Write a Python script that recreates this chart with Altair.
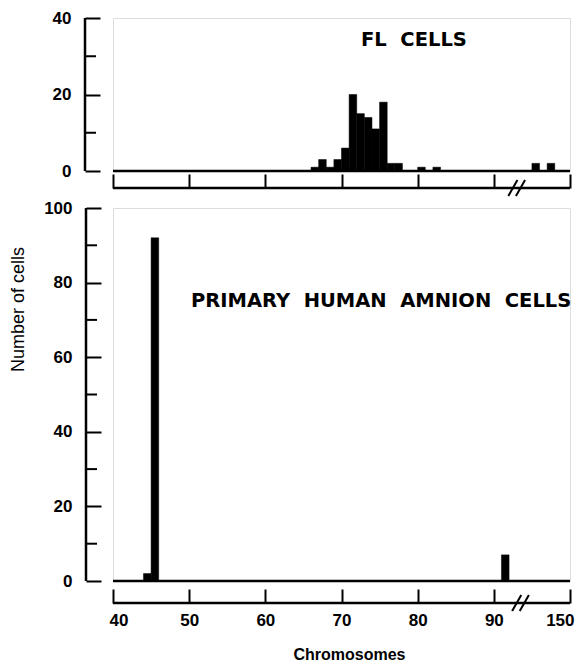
import altair as alt
import pandas as pd

# ---------------- data ----------------
# left edge of each 1-chromosome bin, and number of cells in it
fl_bin = [66, 67, 68, 69, 70, 71, 72, 73, 74, 75, 76, 77, 80, 82, 145, 147]
fl_cells = [1, 3, 1, 3, 6, 20, 15, 14, 11, 18, 2, 2, 1, 1, 2, 2]

amnion_bin = [44, 45, 91]
amnion_cells = [2, 92, 7]

x_tick_values = [40, 50, 60, 70, 80, 90, 150]
x_tick_labels = ["40", "50", "60", "70", "80", "90", "150"]
top_y_major = [0, 20, 40]
top_y_minor = [10, 30]
bot_y_major = [0, 20, 40, 60, 80, 100]
bot_y_minor = [10, 30, 50, 70, 90]

# broken axis: values above the break are shifted left by 50
BREAK_SHIFT = 50


def disp(v):
    return v - BREAK_SHIFT if v > 100 else v


x_disp_ticks = [disp(v) for v in x_tick_values]
label_expr = " : ".join(
    f"datum.value == {d} ? '{l}'" for d, l in zip(x_disp_ticks, x_tick_labels)
) + " : datum.label"

W = 457
H_TOP = 153
H_BOT = 373
FONT = "Liberation Sans, Arial, sans-serif"
BOLD_FONT = "DejaVu Sans, Verdana, sans-serif"

xscale = alt.Scale(domain=[40, 100], nice=False, zero=False)


def bars_df(bins, cells):
    return pd.DataFrame({
        "x0": [disp(b) for b in bins],
        "x1": [disp(b) + 1 for b in bins],
        "cells": cells,
    })


def panel(bins, cells, ymax, major, minor, h, xgap, show_labels, ytitle,
          label_text, label_x, label_y, break_c, yline):
    yscale = alt.Scale(domain=[0, ymax], nice=False, zero=True)
    xaxis = alt.Axis(
        values=x_disp_ticks, labelExpr=label_expr, labels=show_labels,
        labelFlush=True, labelFlushOffset=4, labelOverlap=False,
        domain=False, grid=False, ticks=True, tickSize=14, tickWidth=2,
        tickColor="black", offset=xgap - 14, labelPadding=9,
        labelFont=FONT, labelFontSize=17, labelFontWeight="bold",
        labelColor="black",
        title="Chromosomes" if show_labels else None,
        titleFont=FONT, titleFontSize=16, titleFontWeight="bold",
        titleColor="black", titlePadding=18, titleX=236,
    )
    yaxis_kw = dict(
        values=major, domain=False, grid=False, ticks=True, tickSize=15,
        labelFlush=False, labelOverlap=False,
        tickWidth=2, tickColor="black", offset=-yline - 15, labelPadding=14,
        labelFont=FONT, labelFontSize=17, labelFontWeight="bold",
        labelColor="black",
    )
    if ytitle:
        yaxis = alt.Axis(
            title=ytitle, titleFont=FONT, titleFontSize=18,
            titleFontWeight="normal", titleColor="black", titleAngle=270,
            titleAlign="center", titleBaseline="middle",
            titleX=18 - (114 + yline + 15) + 1, titleY=101, **yaxis_kw)
    else:
        yaxis = alt.Axis(title=None, **yaxis_kw)

    base_df = pd.DataFrame({"a": [0]})

    bars = alt.Chart(bars_df(bins, cells)).mark_bar(
        color="black", stroke="black", strokeWidth=0.5
    ).encode(
        x=alt.X("x0:Q", scale=xscale, axis=xaxis),
        x2="x1:Q",
        y=alt.Y("cells:Q", scale=yscale, axis=yaxis),
        y2=alt.datum(0),
    )

    baseline = alt.Chart(base_df).mark_rule(color="black", strokeWidth=2.5).encode(
        x=alt.datum(40), x2=alt.datum(100), y=alt.datum(0)
    )
    xline = alt.Chart(base_df).mark_rule(color="black", strokeWidth=2.5).encode(
        x=alt.datum(40), x2=alt.datum(100), y=alt.value(h + xgap)
    )
    yline_rule = alt.Chart(base_df).mark_rule(color="black", strokeWidth=2.5).encode(
        x=alt.value(yline), y=alt.datum(0), y2=alt.datum(ymax)
    )
    minor_ticks = alt.Chart(pd.DataFrame({"v": minor})).mark_rule(
        color="black", strokeWidth=2
    ).encode(
        x=alt.value(yline), x2=alt.value(yline + 11), y="v:Q"
    )
    slash_df = pd.DataFrame({
        "xa": [break_c - 0.6, break_c + 0.4],
        "xb": [break_c + 0.6, break_c + 1.6],
    })
    slashes = alt.Chart(slash_df).mark_rule(color="black", strokeWidth=2).encode(
        x="xa:Q", x2="xb:Q",
        y=alt.value(h + xgap + 8), y2=alt.value(h + xgap - 8),
    )
    txt = alt.Chart(pd.DataFrame({"t": [label_text]})).mark_text(
        font=BOLD_FONT, fontSize=19.5, fontWeight="bold", align="left",
        baseline="middle", color="black"
    ).encode(text="t:N", x=alt.value(label_x), y=alt.value(label_y))

    return alt.layer(bars, baseline, xline, yline_rule, minor_ticks, slashes, txt).properties(
        width=W, height=h
    )


top = panel(fl_bin, fl_cells, 40, top_y_major, top_y_minor, H_TOP, 17, False, None,
            "FL\u00a0\u00a0CELLS", 248, 22, 92.5, -28)
bottom = panel(amnion_bin, amnion_cells, 100, bot_y_major, bot_y_minor, H_BOT, 22, True,
               "Number of cells",
               "PRIMARY\u00a0\u00a0HUMAN\u00a0\u00a0AMNION\u00a0\u00a0CELLS", 78, 93, 93.0, -27)

chart = alt.vconcat(top, bottom, spacing=37, bounds="flush").properties(
    padding={"left": 0, "top": 0, "right": 0, "bottom": 0}
).configure_view(stroke=None).configure(background="white")

chart.save("out.html", embed_options={"renderer": "svg", "actions": False})
